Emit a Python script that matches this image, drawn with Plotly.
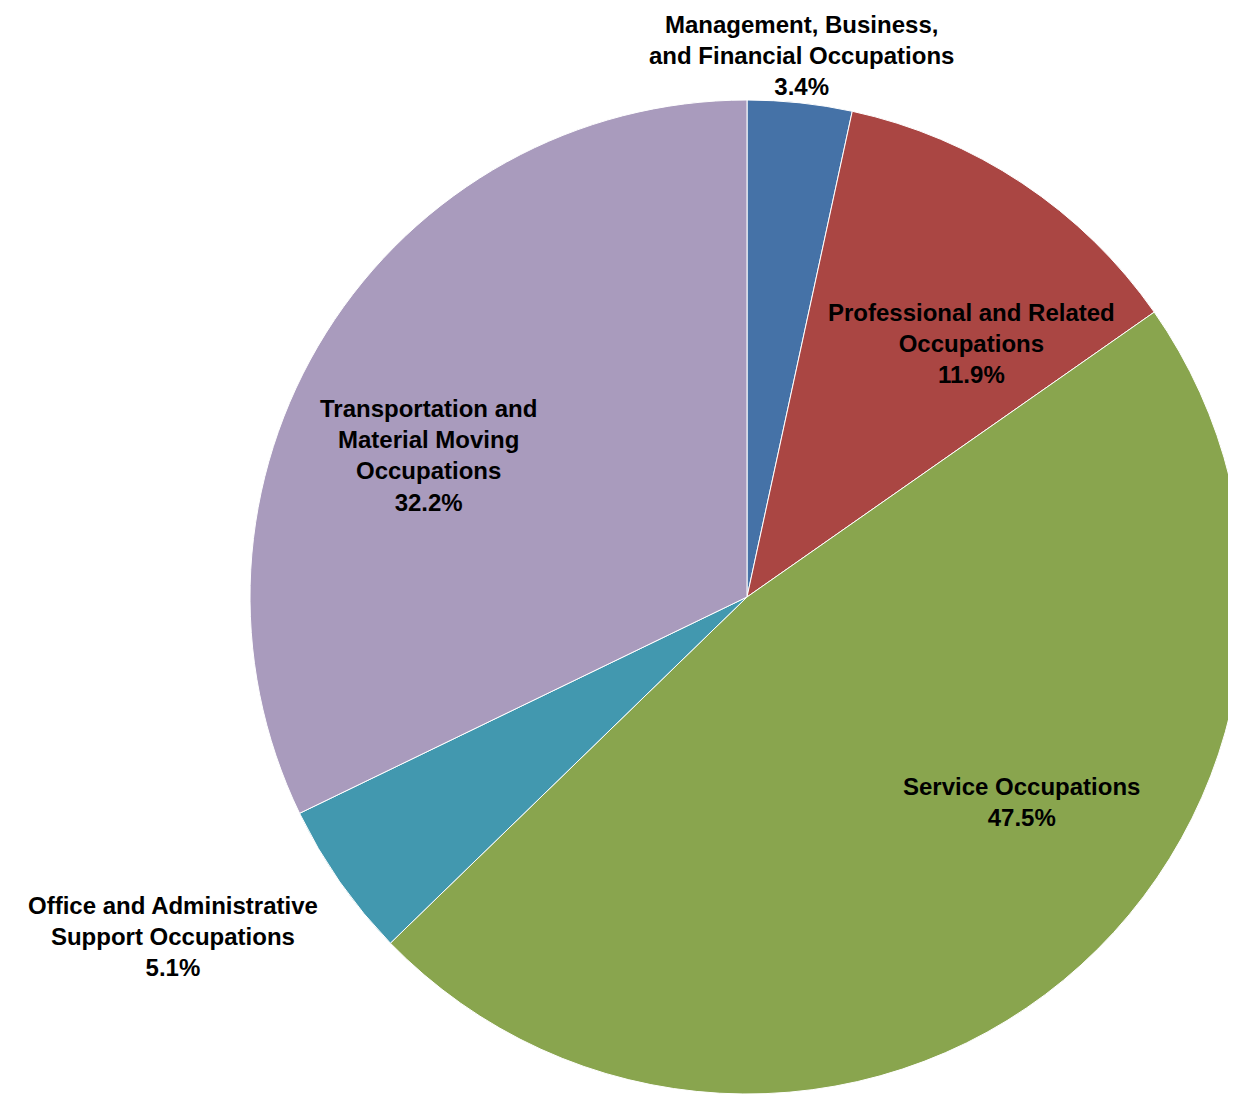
import plotly.graph_objects as go

categories = [
    "Management, Business,<br>and Financial Occupations",
    "Professional and Related<br>Occupations",
    "Service Occupations",
    "Office and Administrative<br>Support Occupations",
    "Transportation and<br>Material Moving<br>Occupations",
]
values = [3.4, 11.9, 47.5, 5.1, 32.2]
colors = ["#4572A7", "#AA4643", "#89A54E", "#4298AF", "#A99BBD"]

W, H = 1236, 1095

# label anchor positions in figure pixels (x, y from top)
label_px = [
    (793, 47),
    (964, 335),
    (1013, 794),
    (165, 928),
    (420, 447),
]

# pie box in figure pixels
pie_x0, pie_x1 = 242, 1236
pie_y0, pie_y1 = 91, 1087

fig = go.Figure(
    go.Pie(
        labels=categories,
        values=values,
        sort=False,
        direction="clockwise",
        rotation=0,
        marker=dict(colors=colors, line=dict(color="white", width=1)),
        textinfo="none",
        hoverinfo="label+percent",
        showlegend=False,
        domain=dict(
            x=[pie_x0 / W, pie_x1 / W],
            y=[1 - pie_y1 / H, 1 - pie_y0 / H],
        ),
    )
)

for cat, val, (x, y) in zip(categories, values, label_px):
    fig.add_annotation(
        x=x / W, y=1 - y / H, xref="paper", yref="paper",
        text=f"{cat}<br>{val:.1f}%",
        showarrow=False,
        xanchor="center", yanchor="middle",
        font=dict(family="Liberation Sans, Arial, sans-serif", size=24, color="black", weight="bold"),
        align="center",
    )

fig.update_layout(
    width=W, height=H,
    margin=dict(l=0, r=0, t=0, b=0),
    paper_bgcolor="white",
    plot_bgcolor="white",
)

fig.write_html("out.html")
